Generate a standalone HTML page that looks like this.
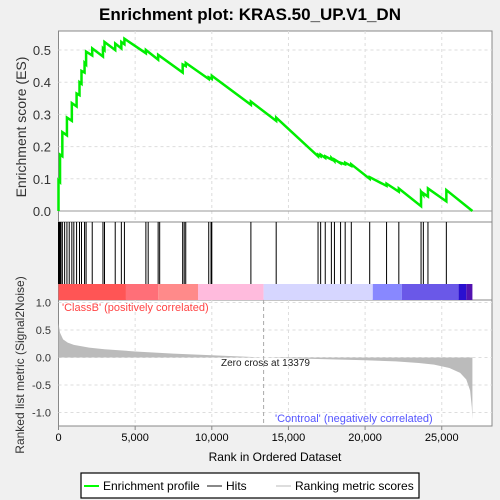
<!DOCTYPE html>
<html><head><meta charset="utf-8"><style>
body{margin:0;background:#f0f0f0;font-family:"Liberation Sans",sans-serif}
svg{display:block}
</style></head><body>
<svg width="500" height="500" xmlns="http://www.w3.org/2000/svg">
<rect width="500" height="500" fill="#f0f0f0"/>
<text x="250" y="20" text-anchor="middle" font-size="17" font-weight="bold" fill="#000">Enrichment plot: KRAS.50_UP.V1_DN</text>
<g id="plot"></g>
<text transform="translate(26,127) rotate(-90)" text-anchor="middle" font-size="14" fill="#333">Enrichment score (ES)</text>
<text transform="translate(24,365) rotate(-90)" text-anchor="middle" font-size="12" fill="#333">Ranked list metric (Signal2Noise)</text>
<text x="275" y="461" text-anchor="middle" font-size="12" fill="#000">Rank in Ordered Dataset</text>
<g>
<rect x="81" y="473" width="338" height="25" fill="#fff" stroke="#000" stroke-width="1.2"/>
<line x1="84" y1="486" x2="99" y2="486" stroke="#00ff00" stroke-width="2"/>
<text x="103" y="490" font-size="12">Enrichment profile</text>
<line x1="207" y1="486" x2="222" y2="486" stroke="#888" stroke-width="2"/>
<text x="226" y="490" font-size="12">Hits</text>
<line x1="276" y1="486" x2="291" y2="486" stroke="#ddd" stroke-width="2"/>
<text x="295" y="490" font-size="12">Ranking metric scores</text>
</g>
</svg>
<script>
const xTicks=[0,5000,10000,15000,20000,25000];
const esTicks=[0,0.1,0.2,0.3,0.4,0.5];
const metricTicks=[1,0.5,0,-0.5,-1];
const esRanks=[0,0,100,100,250,250,550,550,870,870,1180,1180,1370,1370,1500,1500,1700,1700,1800,1800,2200,2200,2900,2900,3000,3000,3700,3700,4100,4100,4300,4300,5700,5700,6500,6500,8100,8100,8300,8300,9800,9800,10000,10000,12550,12550,14200,14200,16930,16930,17100,17100,17400,17400,17800,17800,18000,18000,18400,18400,18700,18700,19100,19100,20300,20300,21400,21400,22200,22200,23650,23650,23800,23800,24100,24100,25300,25300,27000];
const esValues=[0,0.095,0.09,0.175,0.17,0.245,0.235,0.29,0.28,0.335,0.325,0.365,0.36,0.40,0.395,0.435,0.43,0.46,0.455,0.495,0.483,0.505,0.48,0.505,0.50,0.525,0.50,0.52,0.505,0.525,0.518,0.535,0.49,0.50,0.47,0.485,0.43,0.455,0.45,0.46,0.41,0.415,0.41,0.42,0.33,0.34,0.28,0.29,0.17,0.175,0.17,0.175,0.165,0.17,0.16,0.165,0.155,0.16,0.148,0.15,0.145,0.15,0.14,0.145,0.10,0.105,0.078,0.085,0.06,0.07,0.015,0.06,0.05,0.055,0.045,0.07,0.03,0.065,0];
const hitRanks=[0,40,80,100,160,250,400,550,700,870,1000,1180,1370,1500,1700,1800,2200,2900,3000,3700,4100,4300,5700,5850,6500,6600,8100,8200,8300,9800,9950,10000,12550,14200,16930,17100,17400,17800,18000,18400,18700,19100,20300,21400,22200,23650,23800,24100,25300];
const metricRanks=[0,100,300,600,1000,2000,3000,5000,7500,10000,13379,16000,20000,22000,23500,24500,25500,26200,26600,26850,26960,27000];
const metricValues=[0.62,0.45,0.33,0.27,0.23,0.18,0.15,0.11,0.07,0.04,0,-0.02,-0.05,-0.07,-0.1,-0.13,-0.19,-0.28,-0.4,-0.6,-0.9,-1.12];
const NS="http://www.w3.org/2000/svg";
const g=document.getElementById('plot');
const L=58.5,R=492;
const X=r=>L+r*15.33/1000;
const yES=v=>211-v*322;
const yM=v=>357.5-v*55;
function mk(t,a,p){const e=document.createElementNS(NS,t);for(const k in a)e.setAttribute(k,a[k]);(p||g).appendChild(e);return e;}
// panels
const p1=mk('rect',{x:L,y:31,width:R-L,height:191,fill:'#fff',stroke:'#888'});


const p2=mk('rect',{x:L,y:222,width:R-L,height:78,fill:'#fff',stroke:'#888'});


const p3=mk('rect',{x:L,y:300,width:R-L,height:126,fill:'#fff',stroke:'#888'});


// grids
xTicks.forEach(t=>{if(t>0){mk('line',{x1:X(t),x2:X(t),y1:31,y2:222,stroke:'#ddd','stroke-dasharray':'3,3'});mk('line',{x1:X(t),x2:X(t),y1:300,y2:426,stroke:'#ddd','stroke-dasharray':'3,3'});}
 const tl=mk('text',{x:X(t),y:441,'text-anchor':'middle','font-size':11,fill:'#000'});tl.textContent=t.toLocaleString('en-US');
 
 
 mk('line',{x1:X(t),x2:X(t),y1:426,y2:430,stroke:'#888'});
});
esTicks.forEach(t=>{mk('line',{x1:L,x2:R,y1:yES(t),y2:yES(t),stroke:t===0?'#999':'#ddd','stroke-dasharray':t===0?'':'3,3'});
 const tl=mk('text',{x:51,y:yES(t)+5,'text-anchor':'end','font-size':13,fill:'#333'});tl.textContent=t.toFixed(1);
 
 
});
metricTicks.forEach(t=>{mk('line',{x1:L,x2:R,y1:yM(t),y2:yM(t),stroke:'#ddd','stroke-dasharray':'3,3'});
 const tl=mk('text',{x:51,y:yM(t)+4,'text-anchor':'end','font-size':11,fill:'#333'});tl.textContent=t.toFixed(1);
 
 
});
mk('line',{x1:X(13379),x2:X(13379),y1:300,y2:426,stroke:'#aaa','stroke-dasharray':'4,3'});
// hits
hitRanks.forEach(r=>{const l=mk('line',{x1:X(r),x2:X(r),y1:222,y2:284,stroke:'#000','stroke-width':1});
 
 
});
// color bar
const segs=[[0,4400,'#ff5555'],[4400,6500,'#ff6f78'],[6500,9100,'#ff8a8a'],[9100,13379,'#ffbbdd'],[13379,20500,'#d6d6ff'],[20500,22400,'#8888ff'],[22400,26100,'#6a58e8'],[26100,26600,'#2a10d0'],[26600,27000,'#5212b0']];
segs.forEach(s=>{const r=mk('rect',{x:X(s[0]),y:284,width:X(s[1])-X(s[0]),height:16,fill:s[2]});
 
 
});
// metric area
let d='M'+X(0)+','+yM(0);
metricRanks.forEach((r,i)=>d+=' L'+X(r)+','+yM(metricValues[i]));
d+=' L'+X(27000)+','+yM(0)+' Z';
const ma=mk('path',{d:d,fill:'#bbb',stroke:'none'});


// ES line
const pts=esRanks.map((r,i)=>X(r)+','+yES(esValues[i])).join(' ');
const es=mk('polyline',{points:pts,fill:'none',stroke:'#00ee00','stroke-width':2.5});


// labels
const t1=mk('text',{x:62,y:311,'font-size':11,fill:'#ff4444'});t1.textContent="'ClassB' (positively correlated)";


const t2=mk('text',{x:221,y:366,'font-size':10,fill:'#222'});t2.textContent="Zero cross at 13379";


const t3=mk('text',{x:275,y:422,'font-size':11,fill:'#5555ff'});t3.textContent="'Controal' (negatively correlated)";


</script>
</body></html>
